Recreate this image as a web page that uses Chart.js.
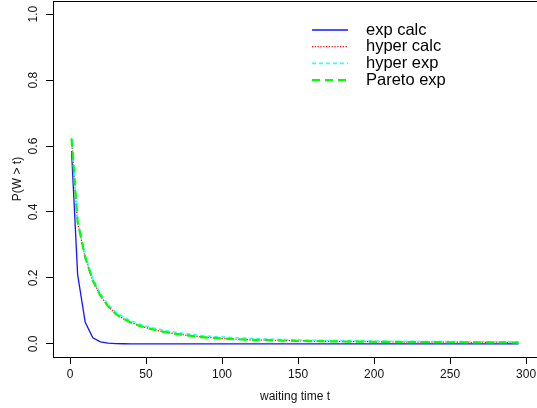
<!DOCTYPE html>
<html>
<head>
<meta charset="utf-8">
<script src="https://cdn.jsdelivr.net/npm/chart.js@4.4.0/dist/chart.umd.min.js"></script>
<style>
  html, body { margin: 0; padding: 0; background: #fff; overflow: hidden; }
  #wrap { width: 537px; height: 408px; position: relative; }
</style>
</head>
<body>
<div id="wrap"><canvas id="chart"></canvas></div>
<script>
// waiting times t
const times = [1, 5, 10, 15, 20, 25, 30, 35, 40, 45,
  50, 55, 60, 65, 70, 75, 80, 85, 90, 95,
  100, 105, 110, 115, 120, 125, 130, 135, 140, 145,
  150, 155, 160, 165, 170, 175, 180, 185, 190, 195,
  200, 205, 210, 215, 220, 225, 230, 235, 240, 245,
  250, 255, 260, 265, 270, 275, 280, 285, 290, 295];

const expCalc = [0.585, 0.210, 0.065, 0.018, 0.006, 0.002, 0.0007, 0.0002, 0, 0,
  0, 0, 0, 0, 0, 0, 0, 0, 0, 0,
  0, 0, 0, 0, 0, 0, 0, 0, 0, 0,
  0, 0, 0, 0, 0, 0, 0, 0, 0, 0,
  0, 0, 0, 0, 0, 0, 0, 0, 0, 0,
  0, 0, 0, 0, 0, 0, 0, 0, 0, 0];

const hyperCalc = [0.620, 0.368, 0.261, 0.191, 0.146, 0.114, 0.092, 0.076, 0.065, 0.056,
  0.049, 0.043, 0.038, 0.034, 0.030, 0.027, 0.024, 0.022, 0.020, 0.018,
  0.016, 0.015, 0.014, 0.013, 0.012, 0.0115, 0.011, 0.0104, 0.0099, 0.0094,
  0.009, 0.0086, 0.0082, 0.0079, 0.0076, 0.0073, 0.007, 0.0068, 0.0066, 0.0064,
  0.0062, 0.006, 0.0058, 0.0057, 0.0055, 0.0054, 0.0052, 0.0051, 0.005, 0.0049,
  0.0048, 0.0047, 0.0046, 0.0045, 0.0044, 0.0043, 0.0042, 0.0041, 0.004, 0.0039];

const hyperExp = [0.626, 0.376, 0.268, 0.198, 0.152, 0.120, 0.097, 0.082, 0.070, 0.061,
  0.054, 0.048, 0.043, 0.038, 0.035, 0.032, 0.029, 0.026, 0.024, 0.022,
  0.021, 0.0195, 0.0183, 0.0172, 0.0162, 0.0153, 0.0145, 0.0138, 0.0131, 0.0125,
  0.012, 0.0115, 0.011, 0.0106, 0.0102, 0.0098, 0.0095, 0.0092, 0.0089, 0.0086,
  0.0084, 0.0082, 0.008, 0.0078, 0.0076, 0.0074, 0.0072, 0.0071, 0.0069, 0.0068,
  0.0067, 0.0066, 0.0065, 0.0064, 0.0063, 0.0062, 0.0061, 0.006, 0.0059, 0.0058];

const paretoExp = [0.622, 0.370, 0.262, 0.192, 0.146, 0.114, 0.091, 0.076, 0.065, 0.056,
  0.049, 0.043, 0.038, 0.034, 0.030, 0.027, 0.024, 0.021, 0.019, 0.018,
  0.016, 0.015, 0.014, 0.013, 0.012, 0.0115, 0.011, 0.0104, 0.0099, 0.0094,
  0.009, 0.0086, 0.0082, 0.0079, 0.0076, 0.0073, 0.007, 0.0068, 0.0066, 0.0064,
  0.0062, 0.006, 0.0058, 0.0057, 0.0055, 0.0054, 0.0052, 0.0051, 0.005, 0.0049,
  0.0048, 0.0047, 0.0046, 0.0045, 0.0044, 0.0043, 0.0042, 0.0041, 0.004, 0.0039];

const seriesNames = ['exp calc', 'hyper calc', 'hyper exp', 'Pareto exp'];
const xTicks = [0, 50, 100, 150, 200, 250, 300];
const yTicks = [0, 0.2, 0.4, 0.6, 0.8, 1.0];

const FONT = 'Liberation Sans, Arial, sans-serif';
const toXY = vals => vals.map((v, i) => ({ x: times[i], y: v }));

// R-style full box around the plot region
const boxPlugin = {
    id: 'box',
    afterDraw(chart) {
        const { ctx, chartArea: a } = chart;
        ctx.save();
        ctx.strokeStyle = '#000';
        ctx.lineWidth = 1;
        ctx.strokeRect(Math.round(a.left) + 0.5, Math.round(a.top) + 0.5,
            Math.round(a.right - a.left), Math.round(a.bottom - a.top));
        ctx.restore();
    }
};

// legend without frame, in the top right like R's legend()
const legendPlugin = {
    id: 'rLegend',
    afterDraw(chart) {
        const ctx = chart.ctx;
        ctx.save();
        chart.data.datasets.forEach((ds, i) => {
            const y = 30 + i * 16.7;
            ctx.beginPath();
            ctx.strokeStyle = ds.borderColor;
            ctx.lineWidth = ds.borderWidth;
            ctx.setLineDash(ds.borderDash || []);
            ctx.moveTo(312, y);
            ctx.lineTo(348, y);
            ctx.stroke();
            ctx.setLineDash([]);
            ctx.fillStyle = '#000';
            ctx.font = '16.5px ' + FONT;
            ctx.textAlign = 'left';
            ctx.textBaseline = 'middle';
            ctx.fillText(ds.label, 366, y);
        });
        ctx.restore();
    }
};

const ctx = document.getElementById('chart').getContext('2d');
new Chart(ctx, {
    type: 'line',
    data: {
        datasets: [
            { label: seriesNames[0], data: toXY(expCalc), borderColor: '#1414ff', borderWidth: 1.3, order: 3 },
            { label: seriesNames[1], data: toXY(hyperCalc), borderColor: '#ff0000', borderWidth: 1.3, borderDash: [1.2, 1.6], order: 2 },
            { label: seriesNames[2], data: toXY(hyperExp), borderColor: '#33ffff', borderWidth: 1.6, borderDash: [4, 3], order: 1 },
            { label: seriesNames[3], data: toXY(paretoExp), borderColor: '#00ff00', borderWidth: 2.2, borderDash: [8, 5], order: 0 },
        ],
    },
    options: {
        responsive: true,
        maintainAspectRatio: false,
        animation: false,
        devicePixelRatio: 1,
        layout: { padding: { top: 1, right: 0, bottom: 0, left: 0 } },
        elements: { point: { radius: 0 }, line: { tension: 0, fill: false } },
        plugins: { legend: { display: false }, tooltip: { enabled: false } },
        scales: {
            x: {
                type: 'linear',
                min: -11.2,
                max: 307.2,
                afterBuildTicks: s => { s.ticks = xTicks.map(v => ({ value: v })); },
                afterFit: s => { s.height = 51; s.paddingLeft = 0; s.paddingRight = 0; },
                grid: { drawOnChartArea: false, tickLength: 7, color: '#000' },
                border: { color: '#000' },
                ticks: { color: '#111', font: { family: FONT, size: 12 }, padding: 3, maxRotation: 0, autoSkip: false },
                title: { display: true, text: 'waiting time t', color: '#111', font: { family: FONT, size: 12 }, padding: { top: 0, bottom: 4 } },
            },
            y: {
                type: 'linear',
                min: -0.04,
                max: 1.04,
                afterBuildTicks: s => { s.ticks = yTicks.map(v => ({ value: v })); },
                afterFit: s => { s.width = 53; s.paddingTop = 0; s.paddingBottom = 0; },
                grid: { drawOnChartArea: false, tickLength: 7, color: '#000' },
                border: { color: '#000' },
                ticks: {
                    color: '#111', font: { family: FONT, size: 12 }, padding: 4,
                    minRotation: 90, maxRotation: 90, crossAlign: 'center',
                    callback: v => v.toFixed(1),
                },
                title: { display: true, text: 'P(W > t)', color: '#111', font: { family: FONT, size: 12 }, padding: { top: 10, bottom: 0 } },
            },
        },
    },
    plugins: [boxPlugin, legendPlugin],
});
</script>
</body>
</html>
